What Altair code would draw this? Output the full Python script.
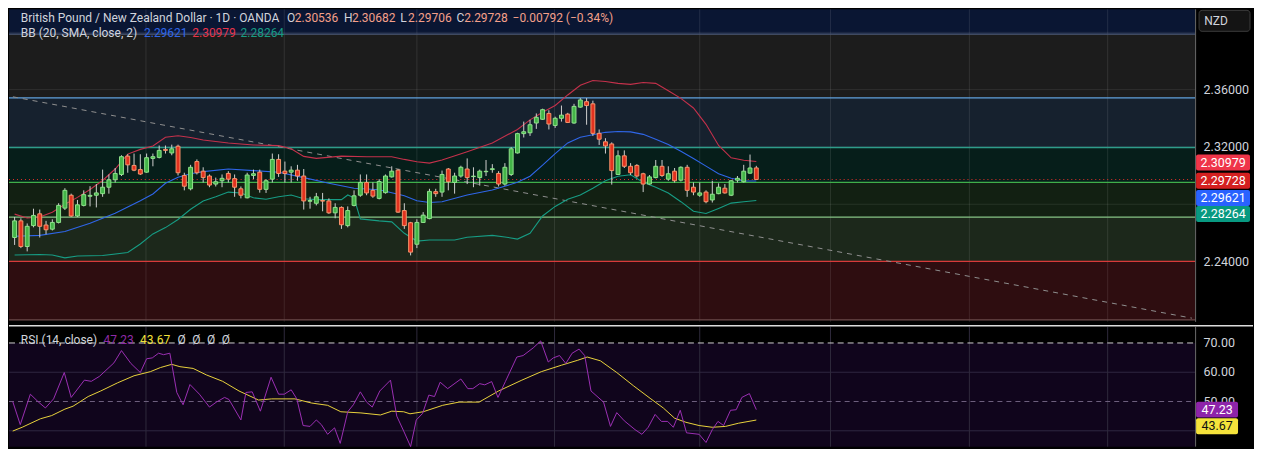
import altair as alt
import pandas as pd

# ---------------- layout constants ----------------
W, H1, H2, AX = 1188, 313, 120, 58
FONT = "Roboto"
P_MIN, P_MAX = 2.19792, 2.41604
R_MIN, R_MAX = 34.58, 75.51
X_MIN, X_MAX = -0.894, 187.81

# ---------------- candles (daily OHLC) ----------------
opens = [2.2568, 2.2684, 2.2505, 2.2651, 2.2733, 2.2655, 2.2626, 2.2673, 2.2773, 2.2863,
         2.2718, 2.2792, 2.2856, 2.2863, 2.2874, 2.2919, 2.2971, 2.3008, 2.3136, 2.3071,
         2.3042, 2.3024, 2.3120, 2.3127, 2.3183, 2.3158, 2.3205, 2.3001, 2.2908, 2.3098,
         2.3031, 2.2997, 2.2941, 2.2964, 2.3015, 2.2979, 2.2908, 2.2845, 2.3001, 2.3024,
         2.2904, 2.2975, 2.3113, 2.3031, 2.3024, 2.3038, 2.2997, 2.2821, 2.2807, 2.2826,
         2.2823, 2.2740, 2.2778, 2.2651, 2.2792, 2.2863, 2.2952, 2.2897, 2.2841, 2.2881,
         2.2991, 2.3038, 2.2756, 2.2671, 2.2521, 2.2673, 2.2700, 2.2888, 2.2885, 2.3046,
         2.2952, 2.2997, 2.3046, 2.2993, 2.2986, 2.3027, 2.3042, 2.3015, 2.2941, 2.3008,
         2.3158, 2.3293, 2.3299, 2.3367, 2.3393, 2.3434, 2.3350, 2.3400, 2.3429, 2.3367,
         2.3478, 2.3516, 2.3501, 2.3295, 2.3236, 2.3221, 2.3008, 2.3138, 2.3065, 2.3071,
         2.3013, 2.2941, 2.2986, 2.3065, 2.2975, 2.3031, 2.2968, 2.3058, 2.2919, 2.2863,
         2.2885, 2.2830, 2.2874, 2.2912, 2.2863, 2.2968, 2.2957, 2.3017, 2.30536]
highs = [2.2711, 2.2702, 2.2666, 2.2769, 2.2763, 2.2684, 2.2695, 2.2807, 2.2912, 2.2874,
         2.2830, 2.2897, 2.2926, 2.2941, 2.3042, 2.3008, 2.3053, 2.3142, 2.3149, 2.3154,
         2.3149, 2.3154, 2.3154, 2.3210, 2.3210, 2.3216, 2.3216, 2.3020, 2.3075, 2.3113,
         2.3058, 2.3008, 2.2986, 2.3008, 2.3031, 2.3008, 2.2924, 2.3020, 2.3042, 2.3042,
         2.2975, 2.3154, 2.3149, 2.3098, 2.3065, 2.3075, 2.3046, 2.2852, 2.2879, 2.2879,
         2.2841, 2.2807, 2.2785, 2.2785, 2.2897, 2.3008, 2.3008, 2.2952, 2.2975, 2.3008,
         2.3065, 2.3046, 2.2807, 2.2677, 2.2695, 2.2745, 2.2908, 2.2908, 2.3035, 2.3053,
         2.3020, 2.3069, 2.3120, 2.3058, 2.3042, 2.3109, 2.3080, 2.3031, 2.3087, 2.3199,
         2.3299, 2.3377, 2.3389, 2.3434, 2.3467, 2.3456, 2.3411, 2.3489, 2.3438, 2.3501,
         2.3541, 2.3541, 2.3523, 2.3322, 2.3261, 2.3232, 2.3176, 2.3176, 2.3087, 2.3080,
         2.3020, 2.3004, 2.3109, 2.3109, 2.3065, 2.3053, 2.3065, 2.3075, 2.2952, 2.2952,
         2.2897, 2.2964, 2.2946, 2.2941, 2.2968, 2.2997, 2.3075, 2.3147, 2.30682]
lows = [2.2516, 2.2494, 2.2471, 2.2639, 2.2568, 2.2590, 2.2617, 2.2666, 2.2760, 2.2711,
        2.2711, 2.2785, 2.2785, 2.2778, 2.2852, 2.2874, 2.2952, 2.2997, 2.3020, 2.3031,
        2.3004, 2.3020, 2.3065, 2.3120, 2.3154, 2.3142, 2.3001, 2.2897, 2.2897, 2.3008,
        2.2952, 2.2919, 2.2924, 2.2919, 2.2952, 2.2852, 2.2841, 2.2841, 2.2975, 2.2881,
        2.2879, 2.2952, 2.2991, 2.2952, 2.2952, 2.2964, 2.2763, 2.2769, 2.2792, 2.2751,
        2.2733, 2.2702, 2.2628, 2.2639, 2.2785, 2.2852, 2.2863, 2.2845, 2.2834, 2.2874,
        2.2986, 2.2740, 2.2628, 2.2443, 2.2494, 2.2669, 2.2695, 2.2852, 2.2852, 2.2897,
        2.2874, 2.2986, 2.2941, 2.2919, 2.2930, 2.2997, 2.3020, 2.2924, 2.2930, 2.2997,
        2.3154, 2.3266, 2.3277, 2.3326, 2.3389, 2.3322, 2.3333, 2.3377, 2.3367, 2.3362,
        2.3474, 2.3355, 2.3277, 2.3214, 2.3154, 2.2937, 2.3004, 2.3053, 2.3004, 2.2986,
        2.2885, 2.2937, 2.2981, 2.2991, 2.2964, 2.2952, 2.2959, 2.2852, 2.2863, 2.2852,
        2.2807, 2.2812, 2.2870, 2.2874, 2.2857, 2.2952, 2.2952, 2.3013, 2.29706]
closes = [2.2684, 2.2505, 2.2646, 2.2722, 2.2646, 2.2622, 2.2673, 2.2792, 2.2897, 2.2718,
          2.2796, 2.2867, 2.2862, 2.2879, 2.2919, 2.2971, 2.3015, 2.3132, 2.3075, 2.3038,
          2.3011, 2.3125, 2.3132, 2.3176, 2.3176, 2.3187, 2.3020, 2.2926, 2.3058, 2.3020,
          2.2986, 2.2934, 2.2957, 2.2981, 2.2975, 2.2919, 2.2863, 2.3004, 2.3013, 2.2904,
          2.2964, 2.3113, 2.3015, 2.3015, 2.3038, 2.2997, 2.2823, 2.2826, 2.2852, 2.2822,
          2.2740, 2.2778, 2.2657, 2.2756, 2.2859, 2.2952, 2.2879, 2.2857, 2.2959, 2.2997,
          2.3031, 2.2745, 2.2651, 2.2466, 2.2673, 2.2724, 2.2890, 2.2874, 2.3008, 2.2957,
          2.2997, 2.3058, 2.2986, 2.2996, 2.3031, 2.3030, 2.3048, 2.2941, 2.3058, 2.3187,
          2.3293, 2.3306, 2.3355, 2.3407, 2.3460, 2.3360, 2.3400, 2.3422, 2.3371, 2.3483,
          2.3528, 2.3489, 2.3295, 2.3254, 2.3207, 2.3035, 2.3138, 2.3065, 2.3020, 2.2997,
          2.2941, 2.2991, 2.3065, 2.3001, 2.3013, 2.2964, 2.3058, 2.2897, 2.2885, 2.2879,
          2.2818, 2.2870, 2.2919, 2.2879, 2.2964, 2.2981, 2.3031, 2.3053, 2.29728]

# ---------------- Bollinger bands (read at sampled bars) ----------------
bb_up_i = [0, 2, 4, 6, 8, 10, 12, 14, 16, 18, 20, 22, 24, 26, 28, 30, 34, 38, 42, 44, 46, 48,
           52, 56, 60, 62, 64, 66, 68, 72, 76, 80, 82, 84, 86, 88, 90, 92, 94, 96, 98, 100,
           102, 104, 106, 108, 110, 112, 114, 116, 118]
bb_up_v = [2.2731, 2.2704, 2.2711, 2.2744, 2.2800, 2.2848, 2.2903, 2.2966, 2.3046, 2.3150,
           2.3183, 2.3207, 2.3268, 2.3278, 2.3266, 2.3248, 2.3228, 2.3214, 2.3209, 2.3187,
           2.3134, 2.3120, 2.3136, 2.3132, 2.3132, 2.3113, 2.3097, 2.3087, 2.3109, 2.3167,
           2.3228, 2.3322, 2.3389, 2.3442, 2.3489, 2.3563, 2.3630, 2.3664, 2.3657, 2.3644,
           2.3637, 2.3650, 2.3644, 2.3592, 2.3539, 2.3472, 2.3358, 2.3210, 2.3124, 2.3107,
           2.30979]
bb_mid_i = [0, 4, 8, 12, 16, 20, 22, 24, 26, 28, 30, 34, 38, 42, 46, 50, 54, 58, 62, 64, 66,
            68, 72, 76, 80, 82, 84, 86, 88, 90, 92, 94, 96, 98, 100, 102, 104, 106, 108, 110,
            112, 114, 116, 118]
bb_mid_v = [2.2577, 2.2583, 2.2610, 2.2667, 2.2738, 2.2825, 2.2872, 2.2946, 2.2989, 2.3013,
            2.3028, 2.3046, 2.3035, 2.3023, 2.2986, 2.2946, 2.2912, 2.2901, 2.2859, 2.2825,
            2.2812, 2.2818, 2.2865, 2.2899, 2.2953, 2.2996, 2.3073, 2.3154, 2.3228, 2.3268,
            2.3285, 2.3302, 2.3308, 2.3305, 2.3288, 2.3254, 2.3217, 2.3170, 2.3120, 2.3066,
            2.3013, 2.2981, 2.2963, 2.29621]
bb_lo_i = [0, 4, 6, 8, 10, 14, 18, 20, 22, 24, 26, 28, 30, 32, 34, 36, 38, 40, 42, 44, 46,
           48, 52, 53, 54, 55, 58, 60, 62, 64, 66, 70, 72, 76, 78, 80, 82, 84, 86, 88, 90, 92,
           94, 96, 98, 100, 102, 104, 106, 108, 110, 112, 114, 116, 118]
bb_lo_v = [2.2446, 2.2449, 2.2446, 2.2426, 2.2439, 2.2442, 2.2463, 2.2523, 2.2593, 2.2637,
           2.2694, 2.2765, 2.2822, 2.2852, 2.2885, 2.2879, 2.2845, 2.2835, 2.2852, 2.2865,
           2.2838, 2.2832, 2.2832, 2.2865, 2.2845, 2.2698, 2.2684, 2.2677, 2.2597, 2.2543,
           2.2550, 2.2550, 2.2570, 2.2583, 2.2572, 2.2557, 2.2597, 2.2718, 2.2785, 2.2835,
           2.2865, 2.2912, 2.2964, 2.2996, 2.3006, 2.2953, 2.2919, 2.2879, 2.2818, 2.2751,
           2.2736, 2.2771, 2.2808, 2.2818, 2.28264]

# ---------------- RSI and its moving average ----------------
rsi_i = [-0.3, 0.9, 2.5, 3.8, 4.9, 6.2, 7.9, 9.0, 11.1, 12.2, 13.5, 15.8, 17.0, 18.5, 20.0,
         21.0, 21.9, 22.9, 23.7, 24.7, 25.8, 26.8, 27.9, 29.4, 31.0, 32.1, 33.4, 34.1, 36.0,
         36.8, 37.8, 39.1, 40.8, 42.0, 42.9, 44.0, 44.9, 45.9, 47.0, 48.0, 48.8, 49.8, 50.9,
         51.8, 53.0, 53.9, 55.0, 56.0, 56.9, 58.1, 59.8, 60.8, 61.9, 63.0, 63.9, 64.9, 65.9,
         66.8, 67.7, 68.9, 71.0, 72.1, 72.9, 74.0, 74.8, 75.9, 76.9, 78.1, 79.9, 80.9, 82.5,
         83.7, 84.9, 85.7, 86.7, 87.7, 88.7, 89.8, 90.7, 91.7, 93.7, 94.8, 95.8, 97.0, 98.7,
         99.8, 100.8, 101.9, 102.9, 103.9, 104.8, 105.9, 106.9, 108.9, 110.0, 111.0, 111.9,
         112.8, 113.9, 114.8, 115.7, 116.9, 118.0]
rsi_v = [50.0, 42.1, 52.5, 49.8, 47.8, 50.9, 59.9, 51.4, 57.3, 56.9, 58.6, 63.2, 67.4, 63.0,
         59.9, 64.6, 64.9, 66.5, 66.0, 66.5, 53.1, 48.9, 55.8, 52.5, 48.1, 49.8, 51.4, 50.7,
         43.7, 53.1, 53.3, 46.7, 58.3, 52.5, 52.5, 54.0, 50.9, 41.8, 41.5, 43.7, 42.1, 38.8,
         41.0, 35.7, 46.5, 48.9, 53.3, 49.8, 48.1, 53.6, 57.3, 45.0, 39.9, 34.6, 43.7, 45.9,
         52.2, 51.7, 56.6, 54.4, 57.7, 54.4, 54.4, 56.1, 55.7, 56.8, 51.4, 56.9, 65.2, 65.7,
         68.3, 70.7, 63.5, 64.9, 65.7, 63.0, 66.5, 67.9, 65.7, 53.6, 49.8, 41.5, 46.2, 43.4,
         40.4, 38.8, 41.2, 45.6, 43.2, 43.2, 41.2, 47.0, 39.3, 38.8, 36.0, 40.4, 43.2, 41.8,
         47.0, 47.2, 51.4, 52.7, 47.23]
ma_i = [-0.3, 1.2, 4.1, 5.9, 8.0, 9.3, 11.7, 13.7, 16.4, 19.0, 21.6, 23.2, 25.0, 26.3, 28.4,
        30.5, 33.1, 35.7, 38.8, 40.9, 44.6, 47.2, 49.8, 51.9, 55.1, 58.2, 60.0, 61.9, 62.9,
        65.0, 68.1, 70.7, 73.9, 77.0, 80.7, 83.8, 87.0, 89.6, 91.1, 93.2, 95.8, 98.5, 101.1,
        103.2, 105.0, 106.8, 108.9, 111.0, 113.1, 115.2, 118.0]
ma_v = [39.9, 41.2, 44.1, 45.2, 47.4, 48.4, 51.7, 53.6, 56.4, 58.8, 60.2, 61.6, 62.7, 61.9,
        61.3, 59.1, 56.9, 53.6, 50.5, 50.9, 50.9, 49.5, 48.7, 46.5, 46.1, 45.4, 46.7, 46.5,
        45.8, 46.5, 48.7, 49.8, 49.8, 53.6, 57.3, 60.2, 62.4, 64.1, 65.2, 63.9, 59.9, 55.3,
        51.1, 47.8, 44.3, 42.9, 41.8, 41.2, 41.5, 42.6, 43.67]

# ---------------- drawings / levels / scale labels ----------------
zone_lo = [2.3988, 2.3543, 2.3196, 2.29523, 2.27107, 2.2402, 2.1993]
zone_hi = [P_MAX, 2.3988, 2.3543, 2.3196, 2.29523, 2.27107, 2.2402]
zone_col = ["#0a1633", "#1c1c1c", "#16212e", "#061e1a", "#122012", "#1c281b", "#2e0d10"]
level_v = [2.3988, 2.3543, 2.3196, 2.29523, 2.27107, 2.2402, 2.1993]
level_col = ["#4d5a78", "#62a3de", "#2e9c8a", "#3fae4a", "#86c386", "#d83a3a", "#6e4a4a"]
grid_prices = [2.40, 2.36, 2.32, 2.28, 2.24]
grid_bars = [20.9, 42.9, 64.0, 85.9, 109.0, 129.8, 151.9, 173.9]
trend_i = [-0.27, 187.3]
trend_v = [2.3550, 2.2005]
last_close = 2.29728
price_ticks = [2.36, 2.32, 2.24]
rsi_ticks = [70, 60, 50]

xs = alt.Scale(domain=[X_MIN, X_MAX], nice=False, zero=False)
ys = alt.Scale(domain=[P_MIN, P_MAX], nice=False, zero=False)
rs = alt.Scale(domain=[R_MIN, R_MAX], nice=False, zero=False)


def txt(s, x, y, color, size=12, align="left", weight="normal"):
    return alt.Chart(pd.DataFrame({"t": [s]})).mark_text(
        text=s, align=align, baseline="middle", font=FONT, fontSize=size,
        fontWeight=weight, color=color).encode(x=alt.value(x), y=alt.value(y))


def tag(value, off, label, bg, fg, x0, x1, scale, h=16):
    d = pd.DataFrame({"v": [value]})
    r = alt.Chart(d).mark_rect(color=bg, yOffset=off - h / 2, y2Offset=off + h / 2,
                               cornerRadius=2).encode(
        x=alt.value(x0), x2=alt.value(x1),
        y=alt.Y("v:Q", scale=scale, axis=None), y2="v:Q")
    t = alt.Chart(d).mark_text(text=label, color=fg, font=FONT, fontSize=12.5, yOffset=off,
                               align="center", baseline="middle").encode(
        x=alt.value((x0 + x1) / 2), y=alt.Y("v:Q", scale=scale, axis=None))
    return r + t


def scale_labels(vals, fmt, scale, height):
    d = pd.DataFrame({"v": vals})
    lab = alt.Chart(d).transform_calculate(lbl=f"format(datum.v, '{fmt}')").mark_text(
        align="left", baseline="middle", font=FONT, fontSize=12.5, color="#d1d4dc").encode(
        x=alt.value(W + 8.5), y=alt.Y("v:Q", scale=scale, axis=None), text="lbl:N")
    border = alt.Chart(pd.DataFrame({"t": [0]})).mark_rule(color="#6a6a6a", strokeWidth=1).encode(
        x=alt.value(W + 0.5), y=alt.value(0), y2=alt.value(height))
    return lab + border


# ================= price panel =================
zones = alt.Chart(pd.DataFrame({"lo": zone_lo, "hi": zone_hi, "col": zone_col})).mark_rect().encode(
    x=alt.value(0), x2=alt.value(W),
    y=alt.Y("lo:Q", scale=ys, axis=None), y2="hi:Q", color=alt.Color("col:N", scale=None))

hgrid = alt.Chart(pd.DataFrame({"p": grid_prices})).mark_rule(
    color="#ffffff", opacity=0.09, strokeWidth=1).encode(
    x=alt.value(0), x2=alt.value(W), y=alt.Y("p:Q", scale=ys, axis=None))
vgrid = alt.Chart(pd.DataFrame({"b": grid_bars})).mark_rule(
    color="#ffffff", opacity=0.1, strokeWidth=1).encode(
    x=alt.X("b:Q", scale=xs, axis=None), y=alt.value(0), y2=alt.value(H1))

levels = alt.Chart(pd.DataFrame({"p": level_v, "col": level_col})).mark_rule(strokeWidth=1.3).encode(
    x=alt.value(0), x2=alt.value(W), y=alt.Y("p:Q", scale=ys, axis=None),
    color=alt.Color("col:N", scale=None))

trend = alt.Chart(pd.DataFrame({"i": trend_i, "v": trend_v})).mark_line(
    color="#8f8f8f", strokeDash=[5, 5], strokeWidth=1).encode(
    x=alt.X("i:Q", scale=xs, axis=None), y=alt.Y("v:Q", scale=ys, axis=None))

lastline = alt.Chart(pd.DataFrame({"p": [last_close]})).mark_rule(
    color="#e0302a", strokeDash=[1, 3], strokeWidth=1).encode(
    x=alt.value(0), x2=alt.value(W), y=alt.Y("p:Q", scale=ys, axis=None))


def band(idx, vals, color):
    return alt.Chart(pd.DataFrame({"i": idx, "v": vals})).mark_line(
        color=color, strokeWidth=1.1).encode(
        x=alt.X("i:Q", scale=xs, axis=None), y=alt.Y("v:Q", scale=ys, axis=None))


bb = band(bb_up_i, bb_up_v, "#c4314b") + band(bb_mid_i, bb_mid_v, "#2f66e8") + band(bb_lo_i, bb_lo_v, "#179c84")

cdf = pd.DataFrame({"i": list(range(len(opens))), "o": opens, "h": highs, "l": lows, "c": closes})
base = alt.Chart(cdf).transform_calculate(
    x0="datum.i - 0.31", x1="datum.i + 0.31",
    dir="datum.c >= datum.o ? 'up' : 'down'")
wicks = base.mark_rule(color="#cfcfcf", strokeWidth=1).encode(
    x=alt.X("i:Q", scale=xs, axis=None), y=alt.Y("l:Q", scale=ys, axis=None), y2="h:Q")
bodies = base.mark_rect(strokeWidth=1).encode(
    x=alt.X("x0:Q", scale=xs, axis=None), x2="x1:Q",
    y=alt.Y("o:Q", scale=ys, axis=None), y2="c:Q",
    color=alt.Color("dir:N", scale=alt.Scale(domain=["up", "down"], range=["#43b548", "#e2321f"]), legend=None),
    stroke=alt.Stroke("dir:N", scale=alt.Scale(domain=["up", "down"], range=["#90e28c", "#f7946b"]), legend=None))

SX, SY = 0.987, 0.9645
head = [
    txt("British Pound / New Zealand Dollar · 1D · OANDA", 12 * SX, 9 * SY, "#d1d4dc"),
    txt("O", 282 * SX, 9 * SY, "#d1d4dc"), txt("2.30536", 290 * SX, 9 * SY, "#f5a08a"),
    txt("H", 340 * SX, 9 * SY, "#d1d4dc"), txt("2.30682", 348 * SX, 9 * SY, "#f5a08a"),
    txt("L", 397 * SX, 9 * SY, "#d1d4dc"), txt("2.29706", 405 * SX, 9 * SY, "#f5a08a"),
    txt("C", 454 * SX, 9 * SY, "#d1d4dc"), txt("2.29728", 462 * SX, 9 * SY, "#f5a08a"),
    txt("−0.00792 (−0.34%)", 511 * SX, 9 * SY, "#f5a08a"),
    txt("BB (20, SMA, close, 2)", 12 * SX, 25 * SY, "#d1d4dc"),
    txt("2.29621", 137 * SX, 25 * SY, "#2f66e8"),
    txt("2.30979", 186 * SX, 25 * SY, "#e8344a"),
    txt("2.28264", 235 * SX, 25 * SY, "#179c84"),
]

nzd_box = alt.Chart(pd.DataFrame({"t": ["NZD"]})).mark_rect(
    color="#141414", stroke="#3c3c3c", strokeWidth=1, cornerRadius=3).encode(
    x=alt.value(W + 4), x2=alt.value(W + 55), y=alt.value(1), y2=alt.value(22))
nzd_txt = txt("NZD", W + 21, 11.5, "#d1d4dc", size=12, align="center")

ptags = (tag(2.30979, 1, "2.30979", "#ef3549", "#ffffff", W + 1, W + 55, ys)
         + tag(2.29728, 1.2, "2.29728", "#d42020", "#ffffff", W + 1, W + 55, ys)
         + tag(2.29621, 16.9, "2.29621", "#2962ff", "#ffffff", W + 1, W + 55, ys)
         + tag(2.28264, 13.5, "2.28264", "#089981", "#ffffff", W + 1, W + 55, ys))

plabels = scale_labels(price_ticks, ".5f", ys, H1)

price = alt.layer(zones, hgrid, vgrid, levels, trend, lastline, bb, wicks, bodies,
                  *head, nzd_box, nzd_txt, plabels, ptags).properties(width=W, height=H1)

# ================= RSI panel =================
rbg = alt.Chart(pd.DataFrame({"a": [70.0], "b": [R_MIN]})).mark_rect(color="#10051c").encode(
    x=alt.value(0), x2=alt.value(W),
    y=alt.Y("a:Q", scale=rs, axis=None), y2="b:Q")
rgrid = alt.Chart(pd.DataFrame({"p": [60, 40]})).mark_rule(color="#2f2740", strokeWidth=1).encode(
    x=alt.value(0), x2=alt.value(W), y=alt.Y("p:Q", scale=rs, axis=None))
rvgrid = alt.Chart(pd.DataFrame({"b": grid_bars})).mark_rule(color="#2f2a3c", strokeWidth=1).encode(
    x=alt.X("b:Q", scale=xs, axis=None), y=alt.value(0), y2=alt.value(H2))
r70 = alt.Chart(pd.DataFrame({"p": [70]})).mark_rule(
    color="#cfcfcf", strokeDash=[6, 4], strokeWidth=1).encode(
    x=alt.value(0), x2=alt.value(W), y=alt.Y("p:Q", scale=rs, axis=None))
r50 = alt.Chart(pd.DataFrame({"p": [50]})).mark_rule(
    color="#6d5f7d", strokeDash=[5, 4], strokeWidth=1).encode(
    x=alt.value(0), x2=alt.value(W), y=alt.Y("p:Q", scale=rs, axis=None))
rline = alt.Chart(pd.DataFrame({"i": rsi_i, "v": rsi_v})).mark_line(
    color="#9b2fb3", strokeWidth=1).encode(
    x=alt.X("i:Q", scale=xs, axis=None), y=alt.Y("v:Q", scale=rs, axis=None))
mline = alt.Chart(pd.DataFrame({"i": ma_i, "v": ma_v})).mark_line(
    color="#e8d23c", strokeWidth=1).encode(
    x=alt.X("i:Q", scale=xs, axis=None), y=alt.Y("v:Q", scale=rs, axis=None))
sep = alt.Chart(pd.DataFrame({"t": [0]})).mark_rule(color="#dcdcdc", strokeWidth=1.5).encode(
    x=alt.value(0), x2=alt.value(W + AX), y=alt.value(-1))

RY = 14 * SY
rhead = [
    txt("RSI (14, close)", 12 * SX, RY, "#d1d4dc"),
    txt("47.23", 96 * SX, RY, "#8e2ba6"),
    txt("43.67", 133 * SX, RY, "#f2e03a"),
    txt("Ø", 171 * SX, RY, "#d1d4dc"), txt("Ø", 186 * SX, RY, "#d1d4dc"),
    txt("Ø", 201 * SX, RY, "#d1d4dc"), txt("Ø", 216 * SX, RY, "#d1d4dc"),
]
rtags = (tag(47.23, 0, "47.23", "#8e24aa", "#ffffff", W + 1, W + 43, rs)
         + tag(43.67, 6.3, "43.67", "#f5e33b", "#111111", W + 1, W + 43, rs))
rlabels = scale_labels(rsi_ticks, ".2f", rs, H2)

rsi = alt.layer(rbg, rgrid, rvgrid, r70, r50, mline, rline, *rhead, rlabels, rtags, sep).properties(
    width=W, height=H2)

chart = alt.vconcat(price, rsi, spacing=2).properties(
    padding=0, background="#000000"
).configure_view(stroke=None)

chart.save("out.html", embed_options={"renderer": "svg", "actions": False})
